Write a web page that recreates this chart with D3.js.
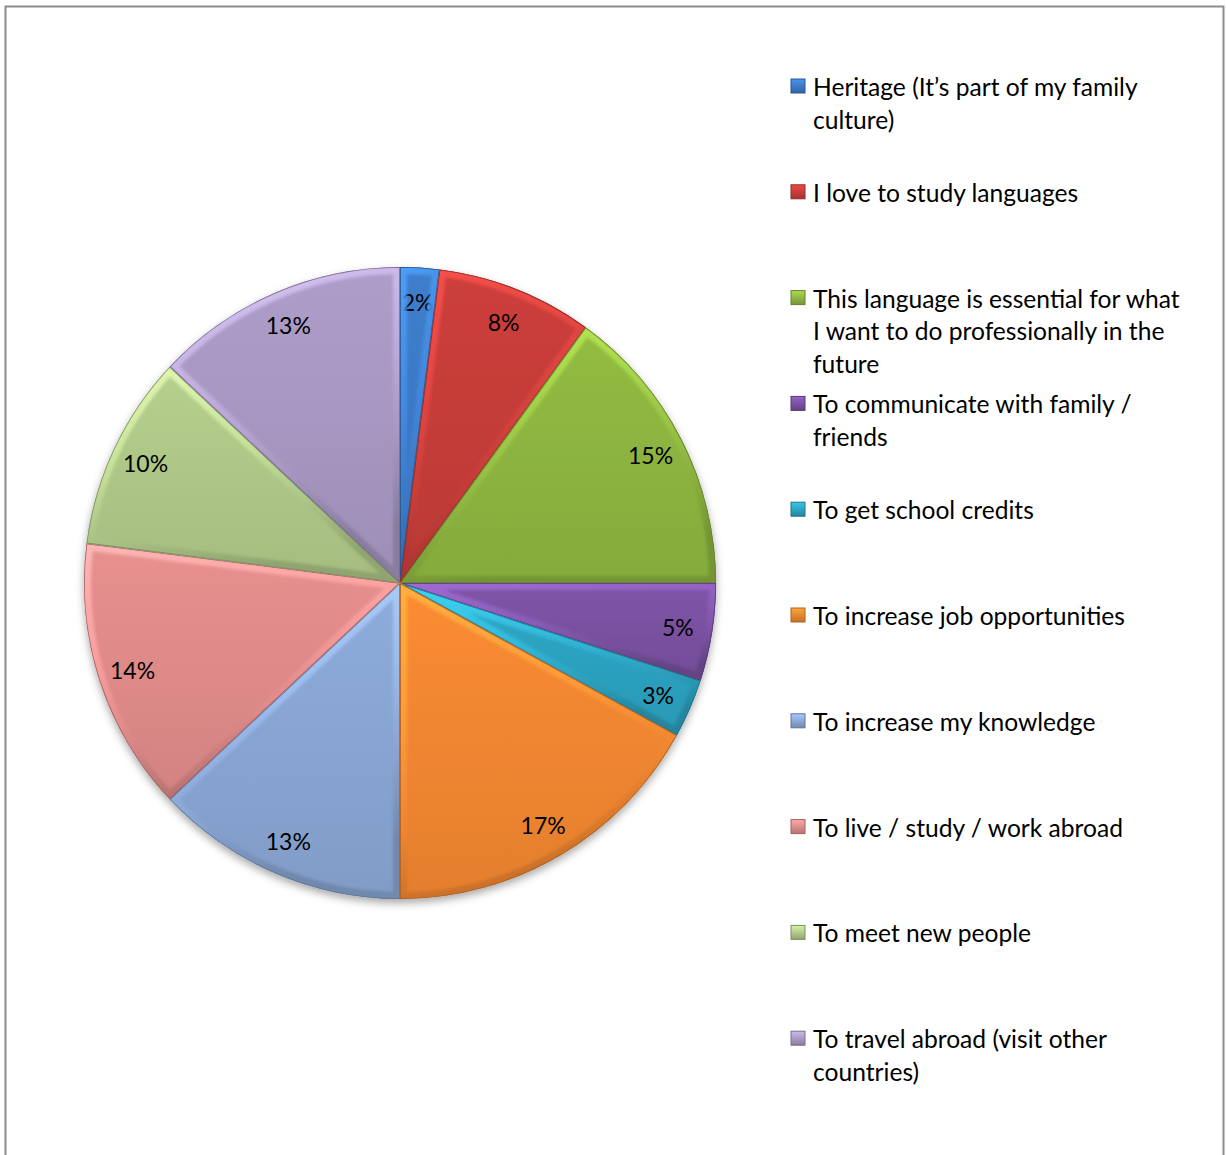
<!DOCTYPE html>
<html>
<head>
<meta charset="utf-8">
<script src="https://cdn.jsdelivr.net/npm/d3@7"></script>
<style>
  html, body { margin: 0; padding: 0; background: #fff; }
  svg { display: block; }
  text { font-family: Lato, "Open Sans", sans-serif; fill: #000; }
</style>
</head>
<body>
<svg id="chart" width="1226" height="1155"></svg>
<script>
// Reasons for studying the language (share of responses, %)
const categories = [
  "Heritage (It\u2019s part of my family\nculture)",
  "I love to study languages",
  "This language is essential for what\nI want to do professionally in the\nfuture",
  "To communicate with family /\nfriends",
  "To get school credits",
  "To increase job opportunities",
  "To increase my knowledge",
  "To live / study / work abroad",
  "To meet new people",
  "To travel abroad (visit other\ncountries)"
];
const values = [2, 8, 15, 5, 3, 17, 13, 14, 10, 13];
const colors = [
  "#3a77c2", "#c23c38", "#8bb23f", "#78509f", "#2ca0be",
  "#ee8530", "#87a3d0", "#dc8988", "#acc586", "#a595bf"
];

const svg = d3.select("#chart");

// outer frame
svg.append("rect")
  .attr("x", 5.5).attr("y", 6.5)
  .attr("width", 1218).attr("height", 1160)
  .attr("fill", "#fff").attr("stroke", "#8c8c8c").attr("stroke-width", 2);

const defs = svg.append("defs");

// soft shadow under the pie
const shadow = defs.append("filter").attr("id", "pieShadow")
  .attr("x", "-20%").attr("y", "-20%").attr("width", "140%").attr("height", "140%");
shadow.append("feDropShadow")
  .attr("dx", 0).attr("dy", 4).attr("stdDeviation", 4)
  .attr("flood-color", "#000").attr("flood-opacity", 0.35);

const bevelBlur = defs.append("filter").attr("id", "bevelBlur")
  .attr("x", "-10%").attr("y", "-10%").attr("width", "120%").attr("height", "120%");
bevelBlur.append("feGaussianBlur").attr("stdDeviation", 1.6);

const cx = 400, cy = 583, R = 316;

const pie = d3.pie().sort(null).value(d => d)
  .startAngle(0).endAngle(2 * Math.PI);
const arcs = pie(values);
const arc = d3.arc().innerRadius(0).outerRadius(R);
const labelArc = d3.arc().innerRadius(R * 0.89).outerRadius(R * 0.89);

const g = svg.append("g").attr("transform", `translate(${cx},${cy})`);
const slicesG = g.append("g").attr("filter", "url(#pieShadow)");

arcs.forEach((a, i) => {
  const col = d3.color(colors[i]);
  defs.append("clipPath").attr("id", "clip" + i)
    .append("path").attr("d", arc(a)).attr("transform", `translate(${cx},${cy})`);
  // body fill: slightly lighter at the top of the slice
  const fg = defs.append("linearGradient").attr("id", "fill" + i)
    .attr("x1", 0).attr("y1", 0).attr("x2", 0).attr("y2", 1);
  fg.append("stop").attr("offset", "0%").attr("stop-color", col.brighter(0.15));
  fg.append("stop").attr("offset", "100%").attr("stop-color", col.darker(0.12));
  // rim: light on upper edges, dark on lower edges
  const rg = defs.append("linearGradient").attr("id", "rim" + i)
    .attr("x1", 0).attr("y1", 0).attr("x2", 0.25).attr("y2", 1);
  rg.append("stop").attr("offset", "0%").attr("stop-color", col.brighter(0.9));
  rg.append("stop").attr("offset", "45%").attr("stop-color", col.brighter(0.45));
  rg.append("stop").attr("offset", "75%").attr("stop-color", col);
  rg.append("stop").attr("offset", "100%").attr("stop-color", col.darker(0.6));
});

slicesG.selectAll("path.slice").data(arcs).join("path")
  .attr("class", "slice")
  .attr("d", arc)
  .attr("fill", (d, i) => `url(#fill${i})`);

// bevelled edges, clipped to each slice
const bevel = svg.append("g");
arcs.forEach((a, i) => {
  const bg = bevel.append("g").attr("clip-path", `url(#clip${i})`);
  bg.append("path")
    .attr("transform", `translate(${cx},${cy})`)
    .attr("d", arc(a))
    .attr("fill", "none")
    .attr("stroke", `url(#rim${i})`)
    .attr("stroke-opacity", 0.85)
    .attr("stroke-width", 14)
    .attr("filter", "url(#bevelBlur)");
  bg.append("path")
    .attr("transform", `translate(${cx},${cy})`)
    .attr("d", arc(a))
    .attr("fill", "none")
    .attr("stroke", d3.color(colors[i]).darker(0.9))
    .attr("stroke-width", 1.6);
});

// percentage labels
g.selectAll("text.pct").data(arcs).join("text")
  .attr("class", "pct")
  .attr("transform", d => `translate(${labelArc.centroid(d)})`)
  .attr("text-anchor", "middle")
  .attr("dominant-baseline", "central")
  .attr("font-size", 23)
  .text(d => d.value + "%");

// legend
const legendX = 791, legendY0 = 86, legendStep = 105.8, lineH = 32.7;
const legend = svg.append("g");
categories.forEach((c, i) => {
  const y = legendY0 + i * legendStep;
  const col = d3.color(colors[i]);
  const mg = defs.append("linearGradient").attr("id", "mk" + i)
    .attr("x1", 0).attr("y1", 0).attr("x2", 0).attr("y2", 1);
  mg.append("stop").attr("offset", "0%").attr("stop-color", col.brighter(0.6));
  mg.append("stop").attr("offset", "100%").attr("stop-color", col.darker(0.5));
  legend.append("rect")
    .attr("x", legendX).attr("y", y - 7)
    .attr("width", 14).attr("height", 14)
    .attr("fill", `url(#mk${i})`)
    .attr("stroke", col.darker(0.9)).attr("stroke-width", 1);
  const t = legend.append("text")
    .attr("x", 813).attr("y", y)
    .attr("font-size", 24.6)
    .attr("dominant-baseline", "central");
  c.split("\n").forEach((line, k) => {
    t.append("tspan").attr("x", 813).attr("dy", k === 0 ? 0 : lineH).text(line);
  });
});
</script>
</body>
</html>
